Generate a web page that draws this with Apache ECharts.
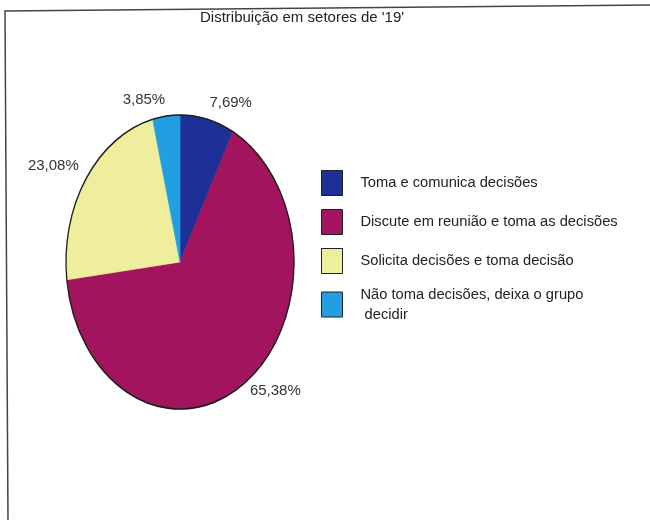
<!DOCTYPE html>
<html>
<head>
<meta charset="utf-8">
<script src="https://cdn.jsdelivr.net/npm/echarts@6/dist/echarts.min.js"></script>
<style>
  html, body { margin: 0; padding: 0; background: #ffffff; }
  #chart { width: 650px; height: 520px; }
</style>
</head>
<body>
<div id="chart"></div>
<script>
// Categories, their shares (%) and slice colours
const categories = [
  'Toma e comunica decisões',
  'Discute em reunião e toma as decisões',
  'Solicita decisões e toma decisão',
  'Não toma decisões, deixa o grupo\n decidir'
];
const shares = [7.69, 65.38, 23.08, 3.85];
const sliceColors = ['#1f2f98', '#a3145f', '#efee9c', '#229fe0'];
const titleText = "Distribuição em setores de '19'";

// Elliptical pie geometry
const CX = 180, CY = 262, RX = 114, RY = 147;
const FONT = 'Liberation Sans, Arial, sans-serif';

const total = shares.reduce((a, b) => a + b, 0);
const starts = [];
shares.reduce((acc, v) => { starts.push(acc); return acc + v; }, 0);

const fmt = v => v.toFixed(2).replace('.', ',') + '%';

const series = categories.map((name, i) => ({
  type: 'custom',
  name: name,
  coordinateSystem: 'none',
  itemStyle: { color: sliceColors[i] },
  data: [[starts[i], shares[i]]],
  renderItem: function (params, api) {
    const s = api.value(0), v = api.value(1);
    const a0 = -Math.PI / 2 + 2 * Math.PI * s / total;
    const a1 = -Math.PI / 2 + 2 * Math.PI * (s + v) / total;
    const am = (a0 + a1) / 2;
    const k = RY / RX;
    const ca = Math.cos(am), sa = Math.sin(am);
    const gap = 9;
    const lx = CX + (RX + gap) * ca;
    const ly = CY + (RY + gap) * sa;
    return {
      type: 'group',
      children: [
        {
          type: 'sector',
          shape: { cx: CX, cy: CY, r0: 0, r: RX, startAngle: a0, endAngle: a1, clockwise: true },
          style: { fill: sliceColors[i], stroke: sliceColors[i], lineWidth: 0.6, strokeNoScale: true },
          scaleY: k, originX: CX, originY: CY
        },
        {
          type: 'arc',
          z2: 10,
          shape: { cx: CX, cy: CY, r: RX, startAngle: a0, endAngle: a1, clockwise: true },
          style: { fill: null, stroke: '#1e1e1e', lineWidth: 1.3, strokeNoScale: true },
          scaleY: k, originX: CX, originY: CY
        },
        {
          type: 'text',
          z2: 11,
          x: lx, y: ly,
          style: {
            text: fmt(v),
            fill: '#333',
            fontFamily: FONT,
            fontSize: 15,
            align: ca >= 0 ? 'left' : 'right',
            verticalAlign: sa < 0 ? 'bottom' : 'middle'
          }
        }
      ]
    };
  }
}));

const chart = echarts.init(document.getElementById('chart'), null, { renderer: 'canvas' });
chart.setOption({
  backgroundColor: '#ffffff',
  animation: false,
  title: {
    text: titleText,
    left: 200,
    top: 10,
    padding: 0,
    textStyle: { fontFamily: FONT, fontSize: 15, fontWeight: 'normal', color: '#222' }
  },
  legend: {
    orient: 'vertical',
    left: 321,
    top: 170,
    padding: 0,
    itemWidth: 21,
    itemHeight: 25,
    itemGap: 13,
    icon: 'rect',
    selectedMode: false,
    itemStyle: { borderColor: '#222', borderWidth: 1 },
    textStyle: { fontFamily: FONT, fontSize: 14.7, color: '#222', lineHeight: 20, padding: [0, 0, 0, 13] },
    data: categories.map((n, i) => i === categories.length - 1
      ? { name: n, textStyle: { height: 25 } }
      : { name: n })
  },
  graphic: [
    {
      type: 'polyline',
      shape: { points: [[650, 5], [5, 11], [8, 520]] },
      style: { fill: null, stroke: '#444', lineWidth: 1.5 }
    }
  ],
  series: series
});
</script>
</body>
</html>
